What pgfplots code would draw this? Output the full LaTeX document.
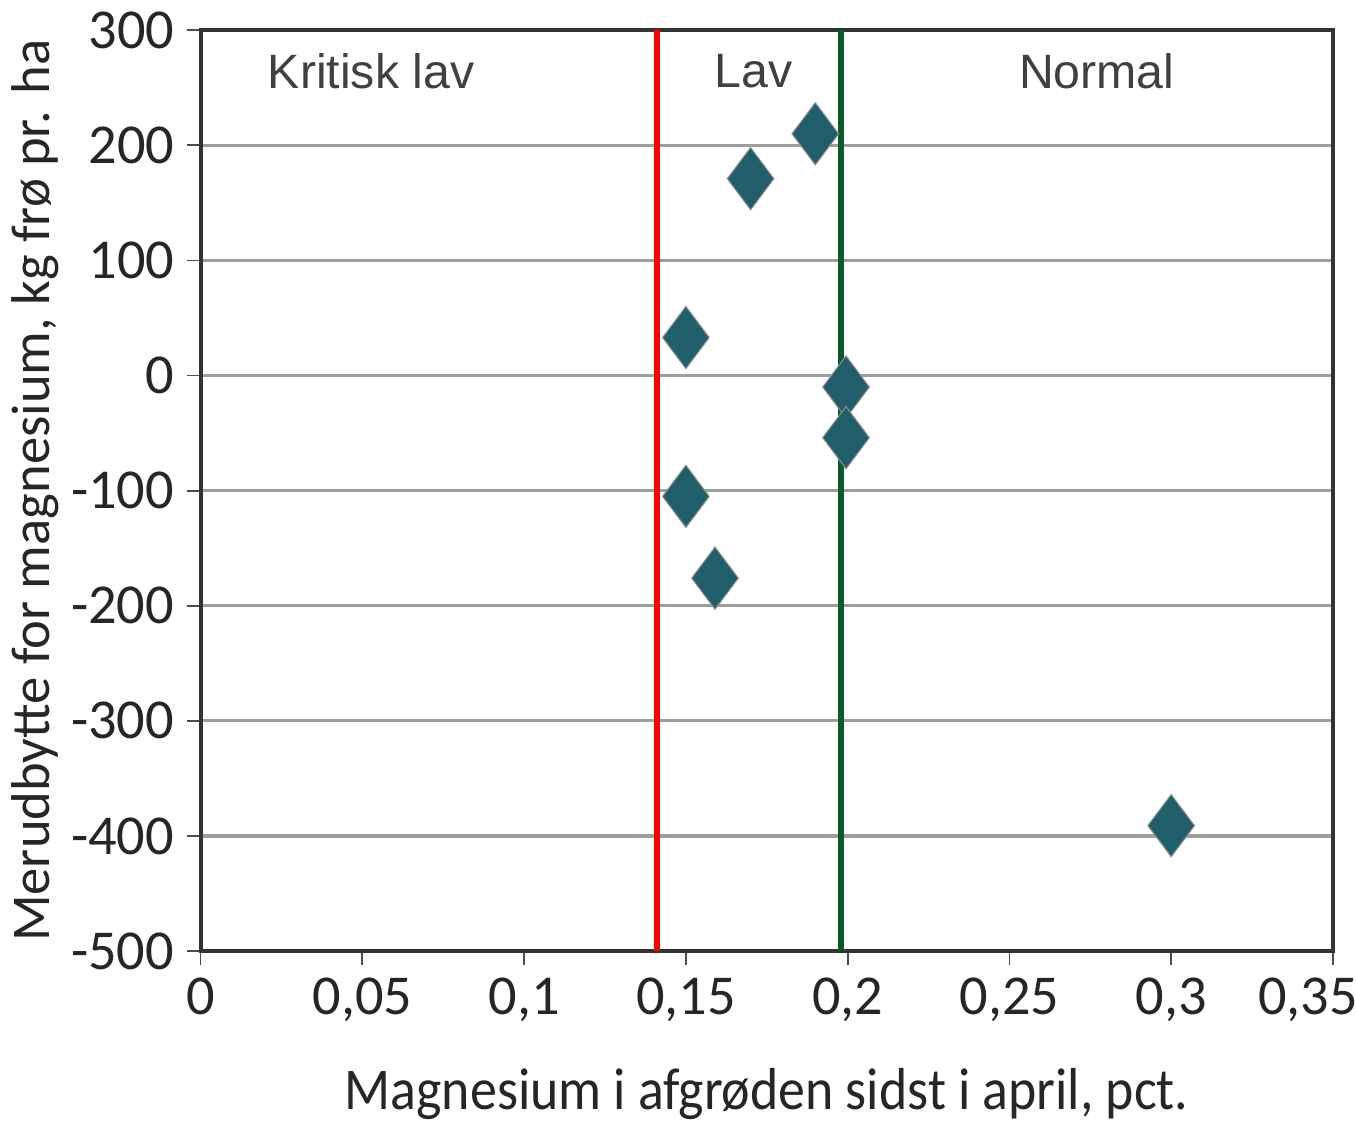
\documentclass[border=0pt]{standalone}
\usepackage{fontspec}
\setmainfont{Carlito}
\newfontfamily\condf[FakeStretch=0.91]{Carlito}
\newfontfamily\arialf{Liberation Sans}
\usepackage{pgfplots}
\pgfplotsset{compat=1.18}
\definecolor{marker}{HTML}{215E6B}
\definecolor{greenline}{HTML}{0B5A2A}
\definecolor{labelgray}{HTML}{404040}
\begin{document}
\begin{tikzpicture}
\begin{axis}[
  scale only axis,
  width=11.3cm, height=9.19cm,
  xmin=0, xmax=0.35, ymin=-500, ymax=300,
  xtick={0,0.05,...,0.35},
  ytick={-500,-400,...,300},
  xticklabels={0,{0,05},{0,1},{0,15},{0,2},{0,25},{0,3},{\makebox[0pt]{\hspace{-5mm}0,35}}},
  /pgf/number format/assume math mode=true,
  tick label style={font=\fontsize{16}{20}\selectfont, text=black!85},
  ymajorgrids, grid style={draw=black!38, line width=0.9pt},
  tick align=outside, tick pos=left,
  major tick length=1.4mm,
  tick style={draw=black!70, line width=0.5pt},
  axis line style={draw=black!80, line width=1.1pt},
  xlabel={Magnesium i afgrøden sidst i april, pct.},
  ylabel={Merudbytte for magnesium, kg frø pr. ha},
  xlabel style={font=\condf\fontsize{16.8}{20}\selectfont, text=black!85, yshift=-2.3mm},
  ylabel style={font=\fontsize{15.5}{18}\selectfont, text=black!85},
  ylabel shift=-1.2mm,
  clip=false,
]
\addplot[red, line width=1.6pt] coordinates {(0.141,-500) (0.141,300)};
\addplot[greenline, line width=1.6pt] coordinates {(0.198,-500) (0.198,300)};
\addplot[only marks, mark=diamond*, mark size=3.1mm,
  mark options={fill=marker, draw=black!45, line width=0.3pt}]
  coordinates {
  (0.17,171) (0.19,210) (0.15,33) (0.1995,-10) (0.1995,-54)
  (0.15,-105) (0.159,-176) (0.3,-391)
  };
\node[font=\arialf\fontsize{13.7}{16}\selectfont, text=labelgray] at (axis cs:0.0527,264) {Kritisk lav};
\node[font=\arialf\fontsize{13.7}{16}\selectfont, text=labelgray] at (axis cs:0.171,264) {Lav};
\node[font=\arialf\fontsize{13.7}{16}\selectfont, text=labelgray] at (axis cs:0.277,264) {Normal};
\end{axis}
\path ([xshift=2.3mm]current axis.south east);
\end{tikzpicture}
\end{document}
